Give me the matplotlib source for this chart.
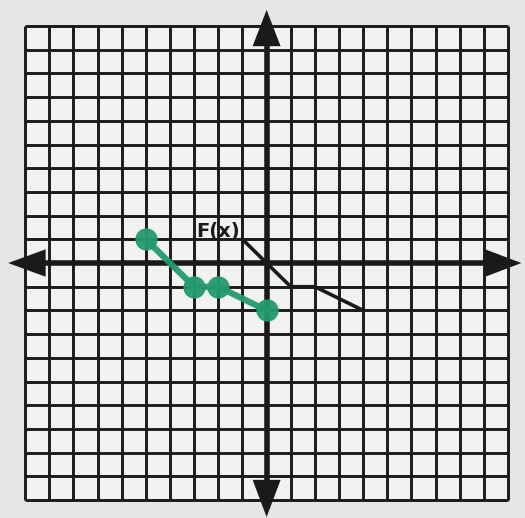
import matplotlib
matplotlib.use('Agg')

import matplotlib.pyplot as plt
import numpy as np

# plotted points (green) and the drawn piecewise line F(x)
green_x = [-5, -3, -2, 0]
green_y = [1, -1, -1, -2]
fx_x = [-1, 0, 1, 2, 4]
fx_y = [1, 0, -1, -1, -2]
grid_ticks = list(range(-10, 11))

paper = '#e5e5e3'
cell = '#f1f1ef'
ink = '#1c1a19'
green = '#239b6e'

fig = plt.figure(figsize=(5.25, 5.18), dpi=100, facecolor=paper)
ax = fig.add_axes([0, 0, 1, 1])
ax.set_xlim(-11.04, 10.70)
ax.set_ylim(-10.76, 11.10)
ax.set_facecolor(paper)
ax.axis('off')

# graph paper
ax.fill_between([-10, 10], -10, 10, color=cell, zorder=0)
ax.vlines(grid_ticks, -10, 10, color=ink, lw=2.1, zorder=1)
ax.hlines(grid_ticks, -10, 10, color=ink, lw=2.1, zorder=1)

# axes with arrowheads
ax.plot([-9.4, 9.4], [0, 0], color=ink, lw=4, zorder=2, solid_capstyle='butt')
ax.plot([0, 0], [-9.4, 9.4], color=ink, lw=4, zorder=2, solid_capstyle='butt')
ax.fill([0, -0.58, 0.58], [10.68, 9.15, 9.15], color=ink, zorder=3, lw=0)
ax.fill([0, -0.58, 0.58], [-10.72, -9.15, -9.15], color=ink, zorder=3, lw=0)
ax.fill([-10.7, -9.15, -9.15], [0, 0.58, -0.58], color=ink, zorder=3, lw=0)
ax.fill([10.55, 9.05, 9.05], [0, 0.58, -0.58], color=ink, zorder=3, lw=0)

# F(x) line
ax.plot(fx_x, fx_y, color=ink, lw=2.6, zorder=4)
ax.text(-2.0, 1.35, 'F(x)', fontsize=14, fontweight='bold', color=ink,
        ha='center', va='center', zorder=5)

# green points
ax.plot(green_x, green_y, color=green, lw=4.5, marker='o', ms=15,
        markeredgecolor=green, zorder=6, alpha=0.95)

fig.savefig('out.png', dpi=100, facecolor=paper)
